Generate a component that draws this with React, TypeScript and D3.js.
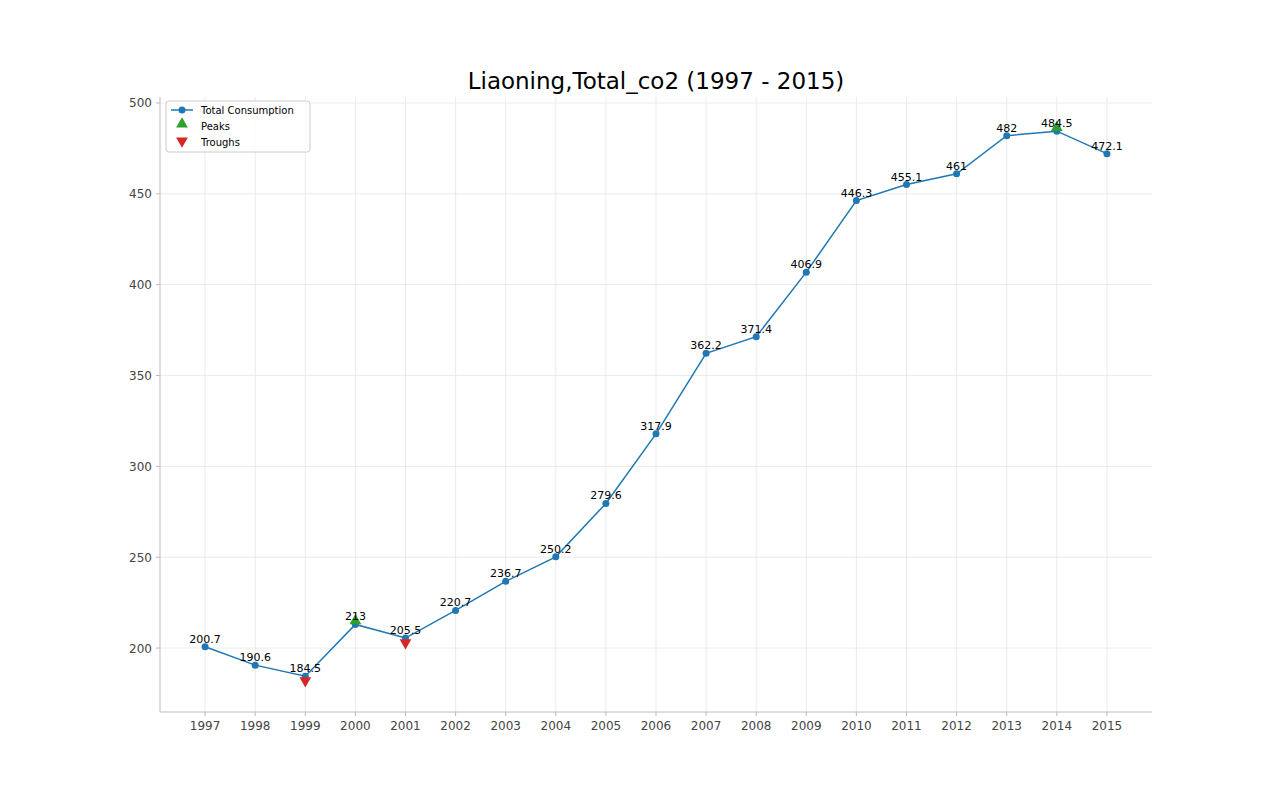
import React from "react"
import * as d3 from "d3"

const years = [1997, 1998, 1999, 2000, 2001, 2002, 2003, 2004, 2005, 2006, 2007, 2008, 2009, 2010, 2011, 2012, 2013, 2014, 2015]
const values = [200.7, 190.6, 184.5, 213, 205.5, 220.7, 236.7, 250.2, 279.6, 317.9, 362.2, 371.4, 406.9, 446.3, 455.1, 461, 482, 484.5, 472.1]
const peakYears = [2000, 2014]
const troughYears = [1999, 2001]
const yTicks = [200, 250, 300, 350, 400, 450, 500]

const W = 1280, H = 800
const left = 160, right = 1152, top = 97, bottom = 712
const font = "DejaVu Sans, sans-serif"

export default function App() {
  const x = d3.scaleLinear().domain([1996.1, 2015.9]).range([left, right])
  const y = d3.scaleLinear().domain([164.8, 503.3]).range([bottom, top])
  const line = d3.line<number>().x((_, i) => x(years[i])).y(d => y(d))
  const val = (yr: number) => values[years.indexOf(yr)]
  const tri = d3.symbol().type(d3.symbolTriangle).size(60)()
  return (
    <svg width={W} height={H} style={{ position: "absolute", left: 0, top: 0, background: "#fff" }} fontFamily={font}>
      {years.map(yr => <line key={yr} x1={x(yr)} x2={x(yr)} y1={top} y2={bottom} stroke="#e6e6e6" strokeWidth={0.8} />)}
      {yTicks.map(t => <line key={t} x1={left} x2={right} y1={y(t)} y2={y(t)} stroke="#e6e6e6" strokeWidth={0.8} />)}
      <line x1={left} x2={left} y1={top} y2={bottom} stroke="#bbb" />
      <line x1={left} x2={right} y1={bottom} y2={bottom} stroke="#bbb" />
      {years.map(yr => (
        <g key={yr}>
          <line x1={x(yr)} x2={x(yr)} y1={bottom} y2={bottom + 4} stroke="#bbb" />
          <text x={x(yr)} y={bottom + 18} fontSize={12} fill="#444" textAnchor="middle">{yr}</text>
        </g>
      ))}
      {yTicks.map(t => (
        <g key={t}>
          <line x1={left - 4} x2={left} y1={y(t)} y2={y(t)} stroke="#bbb" />
          <text x={left - 8} y={y(t) + 4.5} fontSize={12} fill="#444" textAnchor="end">{t}</text>
        </g>
      ))}
      <path d={line(values) ?? ""} fill="none" stroke="#1f77b4" strokeWidth={1.5} />
      {values.map((v, i) => <circle key={i} cx={x(years[i])} cy={y(v)} r={3.5} fill="#1f77b4" />)}
      {peakYears.map(yr => <path key={yr} d={tri ?? ""} transform={`translate(${x(yr)},${y(val(yr) + 2)})`} fill="#2ca02c" />)}
      {troughYears.map(yr => <path key={yr} d={tri ?? ""} transform={`translate(${x(yr)},${y(val(yr) - 2.5)}) rotate(180)`} fill="#d62728" />)}
      {values.map((v, i) => (
        <text key={i} x={x(years[i])} y={y(v) - 4} fontSize={11} textAnchor="middle" fill="#000">{v}</text>
      ))}
      <text x={656} y={89} fontSize={23} textAnchor="middle">Liaoning,Total_co2 (1997 - 2015)</text>
      <g transform="translate(166,101)">
        <rect width={144} height={51} rx={3} fill="#fff" fillOpacity={0.8} stroke="#ccc" />
        <line x1={5} x2={27} y1={9} y2={9} stroke="#1f77b4" strokeWidth={1.5} />
        <circle cx={16} cy={9} r={3.5} fill="#1f77b4" />
        <text x={35} y={13} fontSize={10}>Total Consumption</text>
        <path d={tri ?? ""} transform="translate(16,23)" fill="#2ca02c" />
        <text x={35} y={29} fontSize={10}>Peaks</text>
        <path d={tri ?? ""} transform="translate(16,40) rotate(180)" fill="#d62728" />
        <text x={35} y={45} fontSize={10}>Troughs</text>
      </g>
    </svg>
  )
}
